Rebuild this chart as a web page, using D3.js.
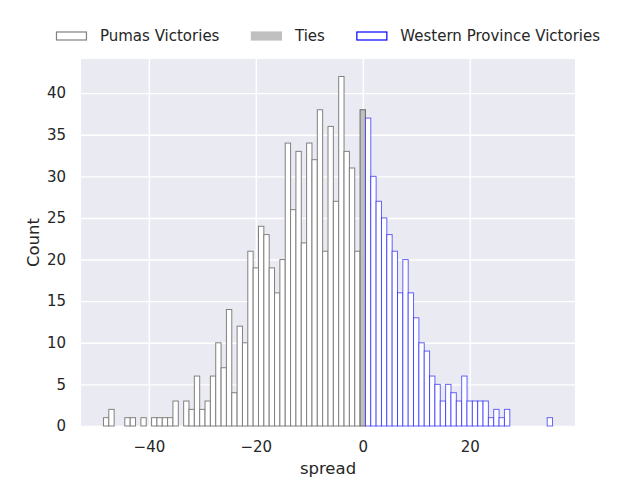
<!DOCTYPE html>
<html>
<head>
<meta charset="utf-8">
<script src="https://cdn.jsdelivr.net/npm/d3@7"></script>
<style>
  body { margin: 0; background: #ffffff; }
  svg { font-family: "DejaVu Sans", sans-serif; }
</style>
</head>
<body>
<svg></svg>
<script>
// spread values (one integer bin each) and how many games fell in them
let pumasSpread = [-48, -47, -46, -45, -44, -43, -42, -41, -40, -39, -38, -37, -36, -35, -34, -33,
                   -32, -31, -30, -29, -28, -27, -26, -25, -24, -23, -22, -21, -20, -19, -18, -17,
                   -16, -15, -14, -13, -12, -11, -10, -9, -8, -7, -6, -5, -4, -3, -2, -1]
let pumasCount  = [1, 2, 0, 0, 1, 1, 0, 1, 0, 1, 1, 1, 1, 3, 0, 3,
                   2, 6, 2, 3, 6, 10, 7, 14, 4, 12, 10, 21, 19, 24, 23, 19,
                   16, 20, 34, 26, 33, 22, 34, 32, 38, 21, 36, 27, 42, 33, 31, 21]

let tieSpread = [0]
let tieCount  = [38]

let westernSpread = [1, 2, 3, 4, 5, 6, 7, 8, 9, 10, 11, 12, 13, 14, 15, 16, 17, 18,
                     19, 20, 21, 22, 23, 24, 25, 26, 27, 28, 29, 30, 31, 32, 33, 34, 35]
let westernCount  = [37, 30, 27, 25, 23, 21, 16, 20, 16, 13, 10, 9, 6, 5, 3, 5, 4, 3,
                     6, 3, 3, 3, 3, 1, 2, 1, 2, 0, 0, 0, 0, 0, 0, 0, 1]

let xTicks = [-40, -20, 0, 20]
let yTicks = [0, 5, 10, 15, 20, 25, 30, 35, 40]

let legendNames = ['Pumas Victories', 'Ties', 'Western Province Victories']

let width = 640
let height = 480
let plotLeft = 81
let plotRight = 575
let plotTop = 59
let plotBottom = 426
let textColor = '#262626'

let svg = d3.select('svg')
let xScale
let yScale

let drawCanvas = () => {
    svg.attr('width', width)
    svg.attr('height', height)
    svg.append('rect')
        .attr('x', plotLeft)
        .attr('y', plotTop)
        .attr('width', plotRight - plotLeft)
        .attr('height', plotBottom - plotTop)
        .attr('fill', '#eaeaf2')
}

// matplotlib style: 5% margin around the bins on both axes
let generateScales = () => {
    let allSpread = pumasSpread.concat(tieSpread, westernSpread)
    let lo = d3.min(allSpread) - 0.5
    let hi = d3.max(allSpread) + 0.5
    let pad = (hi - lo) * 0.05
    xScale = d3.scaleLinear()
               .domain([lo - pad, hi + pad])
               .range([plotLeft, plotRight])

    let maxCount = d3.max(pumasCount.concat(tieCount, westernCount))
    yScale = d3.scaleLinear()
               .domain([0, maxCount * 1.05])
               .range([plotBottom, plotTop])
}

let drawGrid = () => {
    let xGrid = svg.append('g')
        .attr('transform', 'translate(0,' + plotBottom + ')')
        .call(d3.axisBottom(xScale).tickValues(xTicks).tickSize(-(plotBottom - plotTop)).tickFormat(''))
    let yGrid = svg.append('g')
        .attr('transform', 'translate(' + plotLeft + ',0)')
        .call(d3.axisLeft(yScale).tickValues(yTicks).tickSize(-(plotRight - plotLeft)).tickFormat(''))
    ;[xGrid, yGrid].forEach((g) => {
        g.select('.domain').remove()
        g.selectAll('line').attr('stroke', '#ffffff').attr('stroke-width', 1.4)
    })
}

let drawBars = (spread, count, fill, stroke, opacity) => {
    let values = spread.map((s, i) => [s, count[i]]).filter((d) => d[1] > 0)
    svg.append('g')
        .selectAll('rect')
        .data(values)
        .enter()
        .append('rect')
        .attr('x', (d) => xScale(d[0] - 0.5))
        .attr('width', (d) => xScale(d[0] + 0.5) - xScale(d[0] - 0.5))
        .attr('y', (d) => yScale(d[1]))
        .attr('height', (d) => yScale(0) - yScale(d[1]))
        .attr('fill', fill)
        .attr('stroke', stroke)
        .attr('stroke-opacity', opacity)
        .attr('stroke-width', 1)
}

let generateAxes = () => {
    let xAxis = svg.append('g')
        .attr('transform', 'translate(0,' + plotBottom + ')')
        .call(d3.axisBottom(xScale).tickValues(xTicks).tickSize(0).tickPadding(15))
    let yAxis = svg.append('g')
        .attr('transform', 'translate(' + plotLeft + ',0)')
        .call(d3.axisLeft(yScale).tickValues(yTicks).tickSize(0).tickPadding(15))
    ;[xAxis, yAxis].forEach((g) => {
        g.select('.domain').remove()
        g.selectAll('text')
            .attr('font-size', 15)
            .attr('font-family', '"DejaVu Sans", sans-serif')
            .attr('fill', textColor)
    })

    svg.append('text')
        .attr('x', (plotLeft + plotRight) / 2)
        .attr('y', 474)
        .attr('text-anchor', 'middle')
        .attr('font-size', 16.5)
        .attr('fill', textColor)
        .text('spread')

    svg.append('text')
        .attr('transform', 'translate(39,' + (plotTop + plotBottom) / 2 + ') rotate(-90)')
        .attr('text-anchor', 'middle')
        .attr('font-size', 16.5)
        .attr('fill', textColor)
        .text('Count')
}

// legend sits above the axes in one row, centred on the plot
let drawLegend = () => {
    let styles = [
        { fill: '#ffffff', stroke: '#808080' },
        { fill: '#c0c0c0', stroke: '#c0c0c0' },
        { fill: '#ffffff', stroke: '#0000ff' }
    ]
    let gap = 31.5
    let legend = svg.append('g')
    let x = 0
    legendNames.forEach((name, i) => {
        legend.append('rect')
            .attr('x', x + 0.5)
            .attr('y', 32)
            .attr('width', 30)
            .attr('height', 8)
            .attr('fill', styles[i].fill)
            .attr('stroke', styles[i].stroke)
            .attr('stroke-width', 1.2)
        let t = legend.append('text')
            .attr('x', x + 44)
            .attr('y', 41)
            .attr('font-size', 15)
            .attr('fill', textColor)
            .text(name)
        x += 44 + t.node().getComputedTextLength() + gap
    })
    let total = x - gap
    legend.attr('transform', 'translate(' + ((plotLeft + plotRight) / 2 - total / 2) + ',0)')
}

drawCanvas()
generateScales()
drawGrid()
drawBars(pumasSpread, pumasCount, '#ffffff', '#808080', 1)
drawBars(tieSpread, tieCount, '#c0c0c0', '#6a6a6a', 1)
drawBars(westernSpread, westernCount, '#ffffff', '#0000ff', 0.6)
generateAxes()
drawLegend()
</script>
</body>
</html>
